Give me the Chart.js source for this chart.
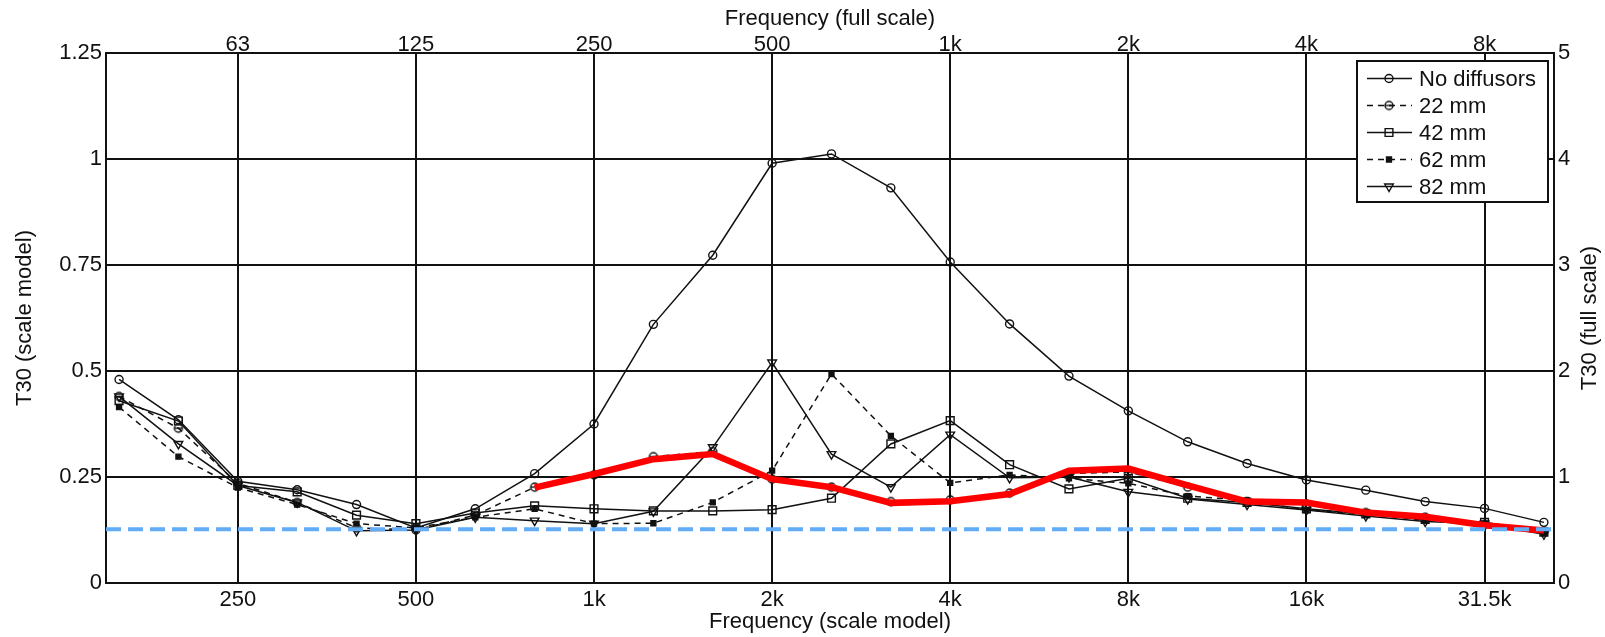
<!DOCTYPE html>
<html>
<head>
<meta charset="utf-8">
<title>T30 scale model vs full scale</title>
<script src="https://cdn.jsdelivr.net/npm/chart.js@4.4.1/dist/chart.umd.min.js"></script>
<style>
  html, body { margin: 0; padding: 0; background: #fff; }
  .chart-box { width: 1605px; height: 637px; position: relative; }
</style>
</head>
<body>
<div class="chart-box"><canvas id="t30Chart"></canvas></div>
<script>
/* =========================
   DATA
 ========================= */
// 1/3 octave bands (scale model), 160 Hz .. 40 kHz
const bands = ['160', '200', '250', '315', '400', '500', '630', '800', '1k', '1.25k', '1.6k', '2k', '2.5k',
  '3.15k', '4k', '5k', '6.3k', '8k', '10k', '12.5k', '16k', '20k', '25k', '31.5k', '40k'];

const noDiffusors = [0.48, 0.385, 0.24, 0.22, 0.185, 0.13, 0.175, 0.258, 0.375, 0.61, 0.773, 0.99, 1.012,
  0.932, 0.757, 0.611, 0.488, 0.406, 0.333, 0.282, 0.243, 0.219, 0.192, 0.176, 0.143];
const mm22 = [0.44, 0.365, 0.235, 0.19, 0.13, 0.125, 0.16, 0.226, 0.255, 0.298, 0.31, 0.245, 0.226,
  0.192, 0.196, 0.212, 0.258, 0.262, 0.226, 0.192, 0.186, 0.166, 0.155, 0.138, 0.122];
const mm42 = [0.43, 0.382, 0.23, 0.215, 0.16, 0.14, 0.165, 0.182, 0.175, 0.17, 0.17, 0.173, 0.2,
  0.328, 0.383, 0.279, 0.222, 0.247, 0.2, 0.19, 0.175, 0.163, 0.15, 0.143, 0.12];
const mm62 = [0.415, 0.298, 0.225, 0.185, 0.14, 0.13, 0.155, 0.175, 0.14, 0.141, 0.19, 0.265, 0.493,
  0.347, 0.236, 0.255, 0.247, 0.235, 0.205, 0.195, 0.172, 0.163, 0.148, 0.14, 0.118];
const mm82 = [0.44, 0.328, 0.23, 0.19, 0.123, 0.125, 0.155, 0.147, 0.14, 0.169, 0.32, 0.52, 0.304,
  0.226, 0.35, 0.248, 0.25, 0.215, 0.198, 0.185, 0.172, 0.158, 0.145, 0.14, 0.115];
// red overlay (starts at 800 Hz)
const overlay = [null, null, null, null, null, null, null, 0.225, 0.257, 0.292, 0.304, 0.245, 0.226,
  0.189, 0.193, 0.21, 0.265, 0.27, 0.23, 0.192, 0.19, 0.166, 0.156, 0.136, 0.124];
// blue dashed reference level
const referenceT30 = 0.127;

// tick labels
const bottomTickBands = ['250', '500', '1k', '2k', '4k', '8k', '16k', '31.5k'];
const topTickLabels = ['63', '125', '250', '500', '1k', '2k', '4k', '8k'];
const leftTicks = [0, 0.25, 0.5, 0.75, 1, 1.25];
const rightTicks = [0, 1, 2, 3, 4, 5];

/* =========================
   HELPERS
 ========================= */
const FONT = "'Liberation Sans', Arial, sans-serif";
const INK = '#111';
const X_MIN = -0.22;
const X_MAX = 24.17;

function toPoints(values) {
  return values.map((v, i) => ({ x: i, y: v }));
}

function bandIndex(label) {
  return bands.indexOf(label);
}

// circle with a bar, used for 22 mm
function barCircle() {
  const c = document.createElement('canvas');
  c.width = 12; c.height = 12;
  const g = c.getContext('2d');
  g.strokeStyle = INK;
  g.lineWidth = 1.4;
  g.beginPath(); g.arc(6, 6, 4, 0, Math.PI * 2); g.stroke();
  g.beginPath(); g.moveTo(2, 6); g.lineTo(10, 6); g.stroke();
  return c;
}

function seriesSet(label, values, opts) {
  return Object.assign({
    label: label,
    data: toPoints(values),
    borderColor: INK,
    borderWidth: 1.5,
    pointBorderColor: INK,
    pointBackgroundColor: 'rgba(0,0,0,0)',
    pointBorderWidth: 1.4,
    pointRadius: 4,
    inLegend: true,
    order: 3
  }, opts);
}

/* =========================
   PLUGINS
 ========================= */
const insetLegend = {
  id: 'insetLegend',
  afterDatasetsDraw(chart) {
    const ctx = chart.ctx;
    const area = chart.chartArea;
    const w = 191, h = 141;
    const x0 = area.right - 197, y0 = area.top + 8;
    ctx.save();
    ctx.fillStyle = '#fff';
    ctx.fillRect(x0, y0, w, h);
    ctx.strokeStyle = INK;
    ctx.lineWidth = 2;
    ctx.strokeRect(x0, y0, w, h);

    let row = 0;
    chart.data.datasets.forEach(ds => {
      if (!ds.inLegend) return;
      const y = y0 + 17.5 + row * 27;
      ctx.setLineDash(ds.borderDash || []);
      ctx.lineWidth = ds.borderWidth;
      ctx.strokeStyle = ds.borderColor;
      ctx.beginPath();
      ctx.moveTo(x0 + 10, y);
      ctx.lineTo(x0 + 55, y);
      ctx.stroke();
      ctx.setLineDash([]);
      ctx.fillStyle = ds.pointBackgroundColor;
      ctx.strokeStyle = ds.pointBorderColor;
      ctx.lineWidth = ds.pointBorderWidth;
      Chart.helpers.drawPoint(ctx, {
        pointStyle: ds.pointStyle,
        rotation: ds.pointRotation || 0,
        radius: ds.pointRadius,
        borderWidth: ds.pointBorderWidth
      }, x0 + 32, y);
      ctx.fillStyle = INK;
      ctx.font = '22px ' + FONT;
      ctx.textBaseline = 'middle';
      ctx.textAlign = 'left';
      ctx.fillText(ds.label, x0 + 62, y + 1);
      row++;
    });
    ctx.restore();
  }
};

// right axis title reads bottom-to-top like the left one
const rightTitle = {
  id: 'rightTitle',
  afterDraw(chart) {
    const ctx = chart.ctx;
    const area = chart.chartArea;
    ctx.save();
    ctx.translate(1590, (area.top + area.bottom) / 2);
    ctx.rotate(-Math.PI / 2);
    ctx.fillStyle = INK;
    ctx.font = '22px ' + FONT;
    ctx.textAlign = 'center';
    ctx.textBaseline = 'middle';
    ctx.fillText('T30 (full scale)', 0, 0);
    ctx.restore();
  }
};

/* =========================
   CHART
 ========================= */
const bottomTickIdx = bottomTickBands.map(bandIndex);
const tickFont = { family: FONT, size: 22 };

const datasets = [
  {
    label: '',
    data: [{ x: X_MIN, y: referenceT30 }, { x: X_MAX, y: referenceT30 }],
    borderColor: '#62adf6',
    borderWidth: 4,
    borderDash: [15, 7],
    pointRadius: 0,
    order: 0
  },
  {
    label: '',
    data: toPoints(overlay),
    borderColor: '#ff0000',
    borderWidth: 6.5,
    pointRadius: 0,
    spanGaps: false,
    order: 1
  },
  seriesSet('No diffusors', noDiffusors, { pointStyle: 'circle', pointRadius: 4 }),
  seriesSet('22 mm', mm22, { pointStyle: barCircle(), borderDash: [6, 5], pointRadius: 5 }),
  seriesSet('42 mm', mm42, { pointStyle: 'rect', pointRadius: 5.5 }),
  seriesSet('62 mm', mm62, { pointStyle: 'rect', pointRadius: 3.5, borderDash: [6, 5],
    pointBackgroundColor: INK }),
  seriesSet('82 mm', mm82, { pointStyle: 'triangle', pointRotation: 180, pointRadius: 5 })
];

new Chart(document.getElementById('t30Chart'), {
  type: 'line',
  data: { datasets: datasets },
  options: {
    responsive: true,
    maintainAspectRatio: false,
    animation: false,
    layout: { padding: 0 },
    plugins: {
      legend: { display: false },
      tooltip: { enabled: false }
    },
    scales: {
      x: {
        type: 'linear',
        position: 'bottom',
        min: X_MIN,
        max: X_MAX,
        afterBuildTicks: s => { s.ticks = bottomTickIdx.map(v => ({ value: v })); },
        afterFit: s => { s.height = 54; },
        ticks: {
          autoSkip: false, maxRotation: 0, padding: 4, color: INK, font: tickFont,
          callback: (v, i) => bottomTickBands[i]
        },
        grid: { color: INK, lineWidth: 2, drawTicks: false },
        border: { color: INK, width: 2 },
        title: {
          display: true, text: 'Frequency (scale model)', color: INK, font: tickFont,
          padding: { top: 0, bottom: 2 }
        }
      },
      xTop: {
        type: 'linear',
        position: 'top',
        min: X_MIN,
        max: X_MAX,
        afterBuildTicks: s => { s.ticks = bottomTickIdx.map(v => ({ value: v })); },
        afterFit: s => { s.height = 53; },
        ticks: {
          autoSkip: false, maxRotation: 0, padding: -5, color: INK, font: tickFont,
          callback: (v, i) => topTickLabels[i]
        },
        grid: { display: false, drawTicks: false },
        border: { color: INK, width: 2 },
        title: {
          display: true, text: 'Frequency (full scale)', color: INK, font: tickFont,
          padding: { top: 6, bottom: 0 }
        }
      },
      y: {
        position: 'left',
        min: 0,
        max: 1.25,
        afterBuildTicks: s => { s.ticks = leftTicks.map(v => ({ value: v })); },
        afterFit: s => { s.width = 106; },
        ticks: { padding: 4, color: INK, font: tickFont, callback: v => String(v) },
        grid: { color: INK, lineWidth: 2, drawTicks: false },
        border: { color: INK, width: 2 },
        title: {
          display: true, text: 'T30 (scale model)', color: INK, font: tickFont,
          padding: { top: 12, bottom: 0 }
        }
      },
      yRight: {
        position: 'right',
        min: 0,
        max: 5,
        afterBuildTicks: s => { s.ticks = rightTicks.map(v => ({ value: v })); },
        afterFit: s => { s.width = 51; },
        ticks: { padding: 4, color: INK, font: tickFont, callback: v => String(v) },
        grid: { display: false, drawTicks: false },
        border: { color: INK, width: 2 }
      }
    }
  },
  plugins: [insetLegend, rightTitle]
});
</script>
</body>
</html>
